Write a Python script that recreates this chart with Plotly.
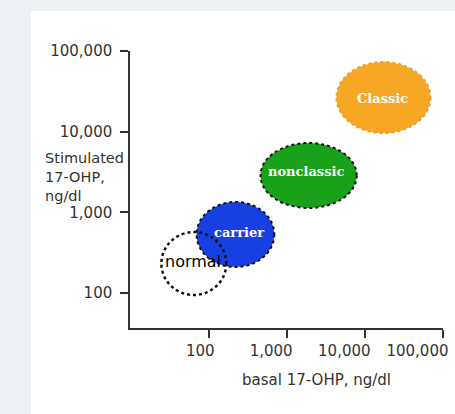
import numpy as np
import plotly.graph_objects as go

# ---- data ----
groups = ["Classic", "nonclassic", "carrier", "normal"]
# basal 17-OHP extent (ng/dl) of each region
basal_low = [4300, 456, 69, 24.4]
basal_high = [69000, 7820, 686, 166]
# stimulated 17-OHP extent (ng/dl) of each region
stim_low = [9600, 1132, 210, 94.4]
stim_high = [73000, 7230, 1343, 570]
# label positions
label_basal = [16500, 1734, 241, 61.8]
label_stim = [26100, 3190, 555, 249]

fill_colors = ["#f6a723", "#19a11b", "#1740e3", "rgba(0,0,0,0)"]
line_colors = ["#eaa02a", "#111111", "#111111", "#111111"]
line_dash = ["dot", "dot", "dot", "dot"]
line_width = [2, 2, 2, 2.5]
label_colors = ["white", "white", "white", "black"]
label_fonts = ["DejaVu Serif", "DejaVu Serif", "DejaVu Serif", "DejaVu Sans"]
label_sizes = [13, 13, 13, 16]
label_weights = ["bold", "bold", "bold", "normal"]

x_tickvals = [100, 1000, 10000, 100000]
x_ticktext = ["100", "1,000", "10,000", "100,000"]
y_tickvals = [100, 1000, 10000, 100000]
y_ticktext = ["100", "1,000", "10,000", "100,000"]

fig = go.Figure()
# invisible trace to establish axes
fig.add_trace(go.Scatter(x=label_basal, y=label_stim, mode="markers",
                         marker=dict(opacity=0), hoverinfo="skip", showlegend=False))

shapes = [
    dict(type="rect", xref="paper", yref="paper", x0=-0.3166, x1=1.2, y0=-0.5, y1=1.1444,
         fillcolor="white", line=dict(width=0), layer="below")
]
for i, g in enumerate(groups):
    shapes.append(dict(type="circle", xref="x", yref="y",
                       x0=basal_low[i], x1=basal_high[i], y0=stim_low[i], y1=stim_high[i],
                       fillcolor=fill_colors[i],
                       line=dict(color=line_colors[i], width=line_width[i], dash=line_dash[i]),
                       layer="above"))

annotations = []
for i, g in enumerate(groups):
    annotations.append(dict(x=np.log10(label_basal[i]), y=np.log10(label_stim[i]),
                            xref="x", yref="y", text=g, showarrow=False,
                            font=dict(family=label_fonts[i], size=label_sizes[i],
                                      color=label_colors[i], weight=label_weights[i])))
annotations.append(dict(x=-0.2768, y=0.546, xref="paper", yref="paper",
                        xanchor="left", yanchor="middle", align="left", showarrow=False,
                        text="Stimulated<br>17-OHP,<br>ng/dl",
                        font=dict(family="DejaVu Sans", size=14.5, color="#333333")))
annotations.append(dict(x=0.5956, y=-0.1877, xref="paper", yref="paper",
                        xanchor="center", yanchor="middle", showarrow=False,
                        text="basal 17-OHP, ng/dl",
                        font=dict(family="DejaVu Sans", size=15, color="#333333")))

fig.update_layout(
    width=455, height=414,
    margin=dict(l=130, r=6, t=51, b=86),
    paper_bgcolor="#edf0f5",
    plot_bgcolor="rgba(0,0,0,0)",
    shapes=shapes,
    annotations=annotations,
    showlegend=False,
    font=dict(family="DejaVu Sans", size=15, color="#333333"),
    xaxis=dict(type="log", range=[0.985, 5], tickvals=x_tickvals, ticktext=x_ticktext,
               showgrid=False, zeroline=False, showline=True, linecolor="#333333", linewidth=1.5,
               ticks="outside", ticklen=8, tickwidth=1.5, tickcolor="#333333",
               ticklabelposition="outside left", ticklabelshift=7, ticklabelstandoff=8,
               tickfont=dict(family="DejaVu Sans", size=15, color="#333333")),
    yaxis=dict(type="log", range=[1.566, 5], tickvals=y_tickvals, ticktext=y_ticktext,
               showgrid=False, zeroline=False, showline=True, linecolor="#333333", linewidth=1.5,
               ticks="outside", ticklen=8, tickwidth=1.5, tickcolor="#333333",
               ticklabelstandoff=5,
               tickfont=dict(family="DejaVu Sans", size=15, color="#333333")),
)

fig.write_html("out.html", config={"displayModeBar": False},
               post_script="document.body.style.margin='0';document.body.style.padding='0';")
